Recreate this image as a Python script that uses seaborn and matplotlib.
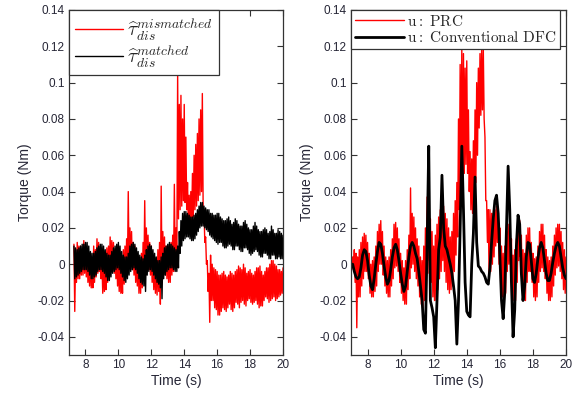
import numpy as np
import pandas as pd
import matplotlib
matplotlib.use('Agg')
import matplotlib.pyplot as plt
import seaborn as sns

# ---------------- data (Torque in Nm, read every 0.1 s) ----------------
# Noisy signals are given as the upper and lower excursions of the noise
# in each 0.1 s slot; the trace swings between them.
left_t_start, left_t_end = 7.3, 20.0
right_t_start, right_t_end = 7.0, 20.0

mismatched_hi = [
    0.011, 0.004, 0.012, 0.010, 0.010, 0.008, 0.013, 0.009, 0.008, 0.003,
    0.006, 0.002, 0.010, 0.008, 0.014, 0.012, 0.009, 0.002, 0.004, 0.001,
    0.009, 0.010, 0.015, 0.013, 0.012, 0.008, 0.006, 0.001, 0.003, 0.000,
    0.008, 0.010, 0.014, 0.040, 0.020, 0.018, 0.012, 0.010, 0.004, 0.004,
    0.002, 0.006, 0.012, 0.035, 0.020, 0.016, 0.012, 0.010, 0.004, 0.002,
    0.001, 0.008, 0.012, 0.043, 0.018, 0.015, 0.010, 0.010, 0.008, 0.012,
    0.016, 0.044, 0.020, 0.105, 0.088, 0.093, 0.080, 0.088, 0.070, 0.045,
    0.038, 0.040, 0.050, 0.060, 0.066, 0.072, 0.080, 0.085, 0.094, 0.030,
    0.015, 0.002, -0.005, 0.005, 0.000, -0.002, -0.003, -0.004, -0.006, -0.006,
    -0.005, -0.004, -0.006, -0.007, -0.006, -0.004, -0.005, -0.006, -0.004, -0.003,
    -0.001, -0.002, -0.003, 0.000, -0.002, -0.005, -0.004, -0.003, -0.005, -0.006,
    -0.004, -0.002, -0.002, -0.001, -0.004, -0.006, -0.004, -0.002, -0.002, 0.000,
    0.002, 0.002, 0.000, -0.001, -0.003, -0.003, -0.004, -0.002,
]
mismatched_lo = [
    -0.026, -0.010, -0.008, -0.008, -0.006, -0.006, -0.005, -0.007, -0.010, -0.012,
    -0.013, -0.013, -0.010, -0.007, -0.005, -0.004, -0.008, -0.016, -0.015, -0.014,
    -0.010, -0.006, -0.004, -0.003, -0.005, -0.008, -0.012, -0.015, -0.016, -0.016,
    -0.011, -0.006, -0.003, -0.001, 0.000, -0.003, -0.006, -0.010, -0.012, -0.016,
    -0.016, -0.013, -0.008, -0.004, -0.002, -0.003, -0.006, -0.010, -0.014, -0.016,
    -0.017, -0.015, -0.022, -0.006, -0.004, -0.006, -0.008, -0.010, -0.010, -0.006,
    -0.004, 0.000, 0.002, 0.025, 0.030, 0.032, 0.035, 0.034, 0.030, 0.022,
    0.020, 0.022, 0.026, 0.030, 0.032, 0.035, 0.038, 0.040, 0.030, 0.012,
    0.000, -0.015, -0.032, -0.020, -0.020, -0.024, -0.025, -0.028, -0.028, -0.026,
    -0.024, -0.025, -0.026, -0.024, -0.022, -0.025, -0.026, -0.024, -0.021, -0.022,
    -0.024, -0.021, -0.020, -0.022, -0.023, -0.020, -0.019, -0.021, -0.022, -0.021,
    -0.020, -0.022, -0.024, -0.023, -0.023, -0.020, -0.018, -0.019, -0.021, -0.020,
    -0.019, -0.018, -0.020, -0.019, -0.018, -0.017, -0.016, -0.015,
]

matched_hi = [
    0.010, 0.009, 0.008, 0.009, 0.010, 0.011, 0.011, 0.012, 0.012, 0.010,
    0.007, 0.006, 0.006, 0.007, 0.009, 0.010, 0.011, 0.011, 0.010, 0.008,
    0.006, 0.005, 0.005, 0.007, 0.009, 0.010, 0.011, 0.012, 0.010, 0.007,
    0.005, 0.004, 0.004, 0.006, 0.010, 0.011, 0.012, 0.011, 0.009, 0.007,
    0.005, 0.004, 0.003, 0.005, 0.008, 0.010, 0.011, 0.010, 0.008, 0.006,
    0.004, 0.002, 0.002, 0.004, 0.006, 0.009, 0.010, 0.011, 0.012, 0.011,
    0.010, 0.009, 0.008, 0.010, 0.018, 0.024, 0.028, 0.029, 0.029, 0.028,
    0.027, 0.026, 0.026, 0.027, 0.028, 0.030, 0.032, 0.034, 0.034, 0.032,
    0.031, 0.030, 0.030, 0.028, 0.028, 0.027, 0.027, 0.028, 0.028, 0.026,
    0.025, 0.024, 0.024, 0.025, 0.026, 0.024, 0.022, 0.023, 0.025, 0.024,
    0.022, 0.021, 0.021, 0.023, 0.024, 0.022, 0.020, 0.019, 0.019, 0.021,
    0.023, 0.021, 0.019, 0.018, 0.018, 0.019, 0.020, 0.019, 0.017, 0.018,
    0.021, 0.019, 0.017, 0.017, 0.019, 0.018, 0.017, 0.016,
]
matched_lo = [
    -0.008, -0.007, -0.006, -0.005, -0.004, -0.003, -0.003, -0.003, -0.004, -0.006,
    -0.008, -0.008, -0.007, -0.006, -0.004, -0.003, -0.003, -0.004, -0.005, -0.007,
    -0.009, -0.009, -0.007, -0.005, -0.004, -0.003, -0.002, -0.003, -0.005, -0.007,
    -0.009, -0.010, -0.008, -0.006, -0.004, -0.003, -0.002, -0.003, -0.005, -0.008,
    -0.010, -0.011, -0.012, -0.015, -0.006, -0.004, -0.003, -0.004, -0.006, -0.008,
    -0.010, -0.011, -0.013, -0.019, -0.008, -0.006, -0.004, -0.003, -0.002, -0.002,
    -0.003, -0.004, -0.004, -0.002, 0.006, 0.010, 0.013, 0.014, 0.015, 0.015,
    0.014, 0.013, 0.013, 0.014, 0.016, 0.018, 0.020, 0.021, 0.021, 0.020,
    0.019, 0.018, 0.016, 0.015, 0.014, 0.013, 0.012, 0.011, 0.012, 0.012,
    0.010, 0.009, 0.009, 0.010, 0.011, 0.010, 0.008, 0.008, 0.010, 0.010,
    0.008, 0.007, 0.007, 0.009, 0.009, 0.008, 0.006, 0.005, 0.006, 0.007,
    0.008, 0.007, 0.005, 0.004, 0.004, 0.006, 0.006, 0.005, 0.003, 0.003,
    0.005, 0.005, 0.003, 0.003, 0.004, 0.003, 0.003, 0.003,
]

prc_hi = [
    0.002, 0.004, 0.008, 0.006, 0.004, 0.008, 0.012, 0.015, 0.017, 0.016,
    0.012, 0.006, 0.000, 0.002, 0.004, 0.010, 0.018, 0.022, 0.024, 0.018,
    0.010, 0.004, 0.002, 0.004, 0.008, 0.014, 0.022, 0.023, 0.020, 0.014,
    0.006, 0.002, -0.002, 0.002, 0.008, 0.016, 0.042, 0.028, 0.026, 0.020,
    0.014, 0.010, 0.004, 0.002, 0.010, 0.020, 0.037, 0.030, 0.025, 0.018,
    0.010, 0.016, 0.022, 0.026, 0.030, 0.034, 0.032, 0.028, 0.025, 0.020,
    0.015, 0.018, 0.028, 0.035, 0.045, 0.080, 0.110, 0.118, 0.116, 0.108,
    0.112, 0.085, 0.062, 0.058, 0.068, 0.085, 0.100, 0.108, 0.116, 0.118,
    0.118, 0.070, 0.035, 0.030, 0.030, 0.028, 0.028, 0.030, 0.032, 0.026,
    0.020, 0.010, 0.006, 0.010, 0.018, 0.022, 0.024, 0.014, 0.005, 0.008,
    0.014, 0.020, 0.024, 0.016, 0.008, 0.006, 0.016, 0.020, 0.020, 0.012,
    0.006, 0.003, 0.004, 0.010, 0.018, 0.022, 0.022, 0.016, 0.008, 0.004,
    0.002, 0.004, 0.010, 0.016, 0.020, 0.022, 0.022, 0.018, 0.012, 0.008,
    0.004,
]
prc_lo = [
    -0.002, -0.003, -0.010, -0.035, -0.018, -0.018, -0.012, -0.008, -0.004, -0.004,
    -0.008, -0.016, -0.018, -0.018, -0.015, -0.012, -0.004, 0.000, 0.000, -0.006,
    -0.012, -0.016, -0.018, -0.018, -0.012, -0.008, -0.002, -0.001, -0.004, -0.010,
    -0.016, -0.020, -0.022, -0.022, -0.014, -0.008, -0.002, 0.000, -0.004, -0.008,
    -0.012, -0.018, -0.022, -0.024, -0.020, -0.016, -0.005, 0.002, -0.010, -0.018,
    -0.020, -0.020, -0.014, -0.008, -0.004, 0.002, -0.004, -0.010, -0.014, -0.016,
    -0.014, -0.012, -0.004, 0.005, 0.015, 0.030, 0.045, 0.040, 0.050, 0.055,
    0.050, 0.040, 0.030, 0.028, 0.035, 0.045, 0.060, 0.075, 0.082, 0.085,
    0.080, 0.035, 0.012, -0.008, -0.004, 0.000, 0.004, 0.010, 0.012, 0.000,
    -0.010, -0.018, -0.020, -0.016, -0.004, 0.000, -0.004, -0.014, -0.020, -0.020,
    -0.010, 0.002, 0.004, -0.012, -0.020, -0.020, -0.010, -0.004, -0.004, -0.010,
    -0.018, -0.020, -0.018, -0.010, -0.004, -0.002, -0.004, -0.008, -0.016, -0.020,
    -0.020, -0.018, -0.012, -0.006, -0.002, -0.001, -0.004, -0.008, -0.014, -0.016,
    -0.015,
]

right_dfc = [
    0.000, 0.000, -0.004, -0.007, -0.008, -0.007, -0.002, 0.005, 0.008, 0.007,
    0.002, -0.006, -0.012, -0.014, -0.008, 0.000, 0.007, 0.012, 0.011, 0.006,
    -0.001, -0.007, -0.011, -0.009, -0.003, 0.004, 0.009, 0.011, 0.008, 0.002,
    -0.005, -0.011, -0.015, -0.012, -0.004, 0.004, 0.010, 0.012, 0.010, 0.006,
    0.003, -0.004, -0.012, -0.020, -0.036, -0.038, 0.010, 0.065, -0.020, -0.024,
    -0.029, -0.046, -0.020, 0.008, 0.015, 0.049, 0.020, 0.010, 0.008, 0.004,
    0.000, -0.005, -0.012, -0.020, -0.044, -0.020, 0.020, 0.065, 0.030, -0.010,
    -0.026, -0.028, -0.029, 0.000, 0.017, 0.048, 0.012, -0.001, -0.002, -0.004,
    -0.005, -0.007, -0.010, -0.011, -0.002, 0.012, 0.025, 0.035, 0.038, 0.028,
    0.005, -0.020, -0.030, -0.015, 0.020, 0.054, 0.030, -0.010, -0.040, -0.025,
    0.010, 0.027, 0.022, -0.005, -0.020, -0.012, 0.004, 0.012, 0.011, 0.002,
    -0.008, -0.010, -0.005, 0.003, 0.009, 0.012, 0.009, 0.002, -0.005, -0.009,
    -0.009, -0.005, 0.001, 0.006, 0.010, 0.012, 0.010, 0.004, -0.002, -0.006,
    -0.008,
]

x_ticks = [8, 10, 12, 14, 16, 18, 20]
y_ticks = [-0.04, -0.02, 0, 0.02, 0.04, 0.06, 0.08, 0.1, 0.12, 0.14]
y_tick_labels = ['-0.04', '-0.02', '0', '0.02', '0.04', '0.06', '0.08', '0.1', '0.12', '0.14']

left_labels = [r'$\widehat{\tau}_{dis}^{mismatched}$', r'$\widehat{\tau}_{dis}^{matched}$']
right_labels = [r'$\mathrm{u{:}\ PRC}$', r'$\mathrm{u{:}\ Conventional\ DFC}$']

# ---------------- build tables ----------------
assert len(mismatched_hi) == len(mismatched_lo) == len(matched_hi) == len(matched_lo) == 128
assert len(prc_hi) == len(prc_lo) == len(right_dfc) == 131
t_left = np.round(np.linspace(left_t_start, left_t_end, 128), 2)
t_right = np.round(np.linspace(right_t_start, right_t_end, 131), 2)


def swing(t, hi, lo):
    """Trace alternating between the read upper and lower excursions."""
    tt = np.column_stack([t, t + 0.05]).ravel()
    yy = np.column_stack([hi, lo]).ravel()
    return pd.DataFrame({'t': tt, 'torque': yy})


df_mis = swing(t_left, mismatched_hi, mismatched_lo)
df_mat = swing(t_left, matched_hi, matched_lo)
df_prc = swing(t_right, prc_hi, prc_lo)
df_dfc = pd.DataFrame({'t': t_right, 'torque': right_dfc})

# ---------------- style ----------------
sns.set_theme(style='white')
plt.rcParams['font.family'] = ['Liberation Sans', 'DejaVu Sans']
plt.rcParams['mathtext.fontset'] = 'cm'

fig = plt.figure(figsize=(5.82, 3.97), dpi=100)
H = 397.0
W = 582.0
ax1 = fig.add_axes([69 / W, 1 - 355 / H, 214 / W, 345 / H])
ax2 = fig.add_axes([351 / W, 1 - 355 / H, 215 / W, 345 / H])

red = '#ff0000'
tick_col = '#262636'

sns.lineplot(data=df_mis, x='t', y='torque', ax=ax1, color=red, lw=1.0,
             estimator=None, sort=False, label=left_labels[0])
sns.lineplot(data=df_mat, x='t', y='torque', ax=ax1, color='black', lw=1.0,
             estimator=None, sort=False, label=left_labels[1])

sns.lineplot(data=df_prc, x='t', y='torque', ax=ax2, color=red, lw=1.0,
             estimator=None, sort=False, label=right_labels[0])
sns.lineplot(data=df_dfc, x='t', y='torque', ax=ax2, color='black', lw=2.0,
             estimator=None, sort=False, label=right_labels[1])

for ax in (ax1, ax2):
    ax.set_xlim(7, 20)
    ax.set_ylim(-0.05, 0.14)
    ax.set_xticks(x_ticks)
    ax.set_xticklabels([str(v) for v in x_ticks])
    ax.set_yticks(y_ticks)
    ax.set_yticklabels(y_tick_labels)
    ax.tick_params(direction='in', length=4, width=0.8, colors='#333333',
                   labelcolor=tick_col, labelsize=8.5, top=True, right=True,
                   bottom=True, left=True, pad=3)
    for s in ax.spines.values():
        s.set_color('#333333')
        s.set_linewidth(0.9)
    ax.set_xlabel('Time (s)', fontsize=10, color=tick_col, labelpad=2)
    ax.set_ylabel('Torque (Nm)', fontsize=10, color=tick_col, labelpad=4)
    ax.grid(False)

leg1 = ax1.legend(loc='upper left', borderaxespad=0, fontsize=14, frameon=True,
                  fancybox=False, framealpha=1, edgecolor='#333333',
                  handlelength=2.5, handletextpad=0.2, labelspacing=0.0,
                  borderpad=0.3)
leg1.get_frame().set_linewidth(0.9)
for ln in leg1.get_lines():
    ln.set_linewidth(1.0)
leg2 = ax2.legend(loc='upper left', borderaxespad=0, fontsize=11, frameon=True,
                  fancybox=False, framealpha=1, edgecolor='#333333',
                  handlelength=3.2, handletextpad=0.2, labelspacing=0.1,
                  borderpad=0.25)
leg2.get_frame().set_linewidth(0.9)
leg2.get_lines()[0].set_linewidth(1.0)
leg2.get_lines()[1].set_linewidth(2.0)

fig.savefig('out.png', dpi=100)
